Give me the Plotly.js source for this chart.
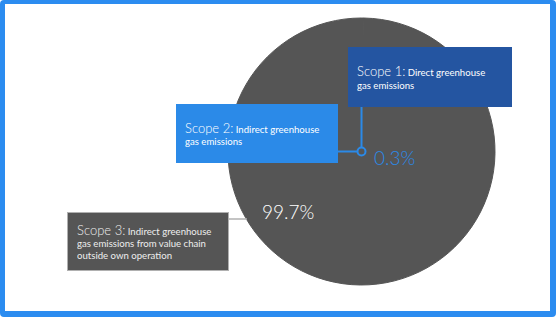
<!DOCTYPE html>
<html>
<head>
<meta charset="utf-8">
<script src="https://cdn.plot.ly/plotly-3.0.1.min.js"></script>
<style>
  html, body { margin: 0; padding: 0; background: #ffffff; overflow: hidden; }
  #wrap { position: relative; width: 556px; height: 317px; }
  #chart { position: absolute; left: 0; top: 0; width: 556px; height: 317px; }
  #frame { position: absolute; left: 0; top: 0; width: 556px; height: 317px; box-sizing: border-box;
           border-style: solid; border-color: #2b8cf0; border-width: 4px 6px 6px 5px; border-radius: 4px;
           pointer-events: none; }
</style>
</head>
<body>
<div id="wrap"><div id="chart"></div><div id="frame"></div></div>
<script>
// ---- data ----
const sliceLabels = ['Scope 1 + Scope 2', 'Scope 3'];
const sliceValues = [0.3, 99.7];
const scopeTitles = ['Scope 1:', 'Scope 2:', 'Scope 3:'];
const scopeDescriptions = [
  'Direct greenhouse<br>gas emissions',
  'Indirect greenhouse<br>gas emissions',
  'Indirect greenhouse<br>gas emissions from value chain<br>outside own operation'
];

// ---- layout helpers ----
const W = 556, H = 317;
const px = x => x / W;
const py = y => 1 - y / H;
const pieDomain = { x: [px(228), px(495)], y: [py(285), py(18)] };
const cx = (pieDomain.x[0] + pieDomain.x[1]) / 2;
const cy = (pieDomain.y[0] + pieDomain.y[1]) / 2;
const cxPx = cx * W, cyPx = (1 - cy) * H;
const total = sliceValues.reduce((a, b) => a + b, 0);
const pct = v => (Math.round(v / total * 1000) / 10).toFixed(1) + '%';

const FONT = 'Lato, "Open Sans", sans-serif';
const boxText = i => '<span style="font-size:13px;font-weight:300">' + scopeTitles[i] + '</span> ' + scopeDescriptions[i];

const trace = {
  type: 'pie',
  labels: sliceLabels,
  values: sliceValues,
  domain: pieDomain,
  marker: { colors: ['#555555', '#555555'], line: { width: 1, color: '#555555' } },
  textinfo: 'none',
  hoverinfo: 'label+percent',
  sort: false,
  showlegend: false
};

const boxes = [
  { x: 348, y: 47, w: 164, h: 60, bg: '#2455a1', border: null, color: '#ffffff' },
  { x: 176, y: 104, w: 162, h: 59, bg: '#2b8ae8', border: null, color: '#ffffff' },
  { x: 67, y: 212, w: 162, h: 59, bg: '#555555', border: '#b0b0b0', color: '#eeeeee' }
];

const annotations = boxes.map((b, i) => ({
  xref: 'paper', yref: 'paper', x: px(b.x), y: py(b.y),
  xanchor: 'left', yanchor: 'top', showarrow: false,
  text: boxText(i), align: 'left', valign: 'middle',
  bgcolor: b.bg, bordercolor: b.border || b.bg, borderwidth: b.border ? 1 : 0,
  borderpad: 9,
  width: b.w - 18 - (b.border ? 2 : 0), height: b.h - 18 - (b.border ? 2 : 0),
  font: { family: FONT, size: 9.6, color: b.color }
}));

annotations.push({
  xref: 'paper', yref: 'paper', x: px(372), y: py(157), xanchor: 'left', yanchor: 'middle',
  showarrow: false, text: pct(sliceValues[0]),
  font: { family: FONT, size: 19, color: '#2b8ae8', weight: 300 }
});
annotations.push({
  xref: 'paper', yref: 'paper', x: px(288), y: py(212), xanchor: 'center', yanchor: 'middle',
  showarrow: false, text: pct(sliceValues[1]),
  font: { family: FONT, size: 19, color: '#ffffff', weight: 300 }
});

const shapes = [
  // Scope 1 leader (vertical)
  { type: 'line', xref: 'paper', yref: 'paper', x0: cx, x1: cx, y0: py(107), y1: py(cyPx - 4),
    line: { color: '#2b8ae8', width: 2 } },
  // Scope 2 leader (horizontal)
  { type: 'line', xref: 'paper', yref: 'paper', x0: px(338), x1: px(cxPx - 4), y0: cy, y1: cy,
    line: { color: '#2b8ae8', width: 2 } },
  // marker ring at pie centre
  { type: 'circle', xref: 'paper', yref: 'paper',
    x0: px(cxPx - 4), x1: px(cxPx + 4), y0: py(cyPx + 4), y1: py(cyPx - 4),
    fillcolor: '#555555', line: { color: '#2b8ae8', width: 2 } },
  // Scope 3 leader
  { type: 'line', xref: 'paper', yref: 'paper', x0: px(229), x1: px(247), y0: py(219), y1: py(219),
    line: { color: '#b0b0b0', width: 1.5 } }
];

const layout = {
  width: W, height: H,
  margin: { l: 0, r: 0, t: 0, b: 0 },
  paper_bgcolor: '#ffffff', plot_bgcolor: '#ffffff',
  showlegend: false,
  annotations: annotations,
  shapes: shapes,
  font: { family: FONT }
};

Plotly.newPlot('chart', [trace], layout, { displayModeBar: false, staticPlot: true });
</script>
</body>
</html>
